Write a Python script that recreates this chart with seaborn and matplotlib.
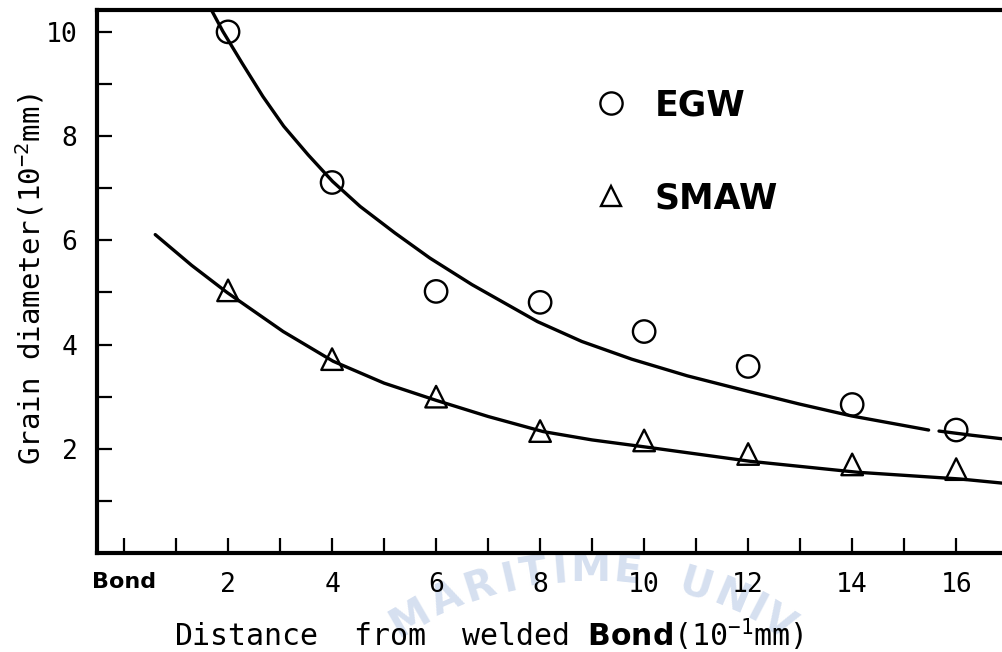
import numpy as np
import pandas as pd
import matplotlib
matplotlib.use("Agg")
import matplotlib.pyplot as plt
from matplotlib.lines import Line2D
from matplotlib.transforms import IdentityTransform
import seaborn as sns

# ---------------- data ----------------
distance = [2, 4, 6, 8, 10, 12, 14, 16]
egw_values = [10.0, 7.11, 5.02, 4.81, 4.25, 3.58, 2.85, 2.36]
smaw_values = [5.04, 3.72, 3.00, 2.34, 2.16, 1.90, 1.70, 1.61]

# hand-drawn fitted curves
egw_curve_x_a = [1.68, 1.90, 2.27, 2.67, 3.07, 3.54, 4.01, 4.54, 5.21, 5.88, 6.69, 7.95,
                 8.8, 9.76, 10.83, 11.97, 12.98, 13.99, 15.47]
egw_curve_y_a = [10.42, 10.01, 9.40, 8.76, 8.19, 7.64, 7.13, 6.65, 6.14, 5.66, 5.15, 4.44,
                 4.06, 3.72, 3.40, 3.11, 2.86, 2.63, 2.36]
egw_curve_x_b = [15.67, 16.3, 16.9]
egw_curve_y_b = [2.34, 2.26, 2.19]
smaw_curve_x = [0.6, 1.3, 1.98, 3.06, 4.02, 5.0, 6.0, 7.0, 8.06, 9.0, 10.06, 12.04, 14.1, 16.08, 16.9]
smaw_curve_y = [6.11, 5.52, 5.00, 4.25, 3.68, 3.26, 2.93, 2.62, 2.33, 2.17, 2.03, 1.76, 1.55, 1.42, 1.34]

x_ticks = [0, 2, 4, 6, 8, 10, 12, 14, 16]
x_tick_labels = ["Bond", "2", "4", "6", "8", "10", "12", "14", "16"]
y_ticks = [2, 4, 6, 8, 10]
y_tick_labels = ["2", "4", "6", "8", "10"]
series_names = ["EGW", "SMAW"]
watermark = "MARITIME UNIV"

# ---------------- style ----------------
sns.set_theme(style="ticks")
plt.rcParams["font.family"] = ["DejaVu Sans Mono", "DejaVu Sans"]
plt.rcParams["mathtext.fontset"] = "custom"
plt.rcParams["mathtext.rm"] = "DejaVu Sans Mono"
plt.rcParams["mathtext.bf"] = "DejaVu Sans:bold"
plt.rcParams["mathtext.default"] = "rm"

fig = plt.figure(figsize=(10.03, 6.52), dpi=100)
ax = fig.add_axes([0.0967, 0.1518, 0.9033, 0.8329])
ax.patch.set_alpha(0)

pts = pd.DataFrame({
    "x": distance * 2,
    "y": egw_values + smaw_values,
    "process": ["EGW"] * len(distance) + ["SMAW"] * len(distance),
})

# curves
for cx_, cy_ in [(egw_curve_x_a, egw_curve_y_a), (egw_curve_x_b, egw_curve_y_b),
                 (smaw_curve_x, smaw_curve_y)]:
    sns.lineplot(x=cx_, y=cy_, ax=ax, color="black", lw=2.4, sort=False, estimator=None)

# points
sns.scatterplot(data=pts[pts.process == "EGW"], x="x", y="y", ax=ax, marker="o",
                s=260, facecolor="none", edgecolor="black", linewidth=1.7, zorder=5)
sns.scatterplot(data=pts[pts.process == "SMAW"], x="x", y="y", ax=ax, marker="^",
                s=240, facecolor="none", edgecolor="black", linewidth=1.7, zorder=5)

ax.set_xlim(-0.52, 16.9)
ax.set_ylim(0, 10.42)

ax.set_xticks(x_ticks)
ax.set_xticklabels(x_tick_labels)
ax.set_xticks(np.arange(1, 17, 2), minor=True)
ax.set_yticks(y_ticks)
ax.set_yticklabels(y_tick_labels)
ax.set_yticks(np.arange(1, 10, 2), minor=True)
ax.tick_params(axis="both", which="both", direction="in", length=11, width=1.6,
               color="black", labelcolor="black", labelsize=19, pad=14,
               top=False, right=False)
lab0 = ax.get_xticklabels()[0]
lab0.set_fontfamily("DejaVu Sans")
lab0.set_fontweight("bold")
lab0.set_fontsize(16)

for side in ["left", "bottom", "top"]:
    ax.spines[side].set_linewidth(3)
    ax.spines[side].set_color("black")
ax.spines["right"].set_visible(False)

ax.set_xlabel(r"Distance  from  welded $\mathbf{Bond}$(10$^{-1}$mm)", fontsize=21.5,
              color="black", va="center")
ax.xaxis.set_label_coords(0.433, -0.151)
ax.set_ylabel(r"Grain diameter(10$^{-2}$mm)", fontsize=21, color="black", va="center")
ax.yaxis.set_label_coords(-0.074, 0.505)

handles = [
    Line2D([], [], ls="", marker="o", ms=16, mfc="none", mec="black", mew=1.7),
    Line2D([], [], ls="", marker="^", ms=15, mfc="none", mec="black", mew=1.7),
]
leg = ax.legend(handles, series_names, loc="upper left", bbox_to_anchor=(0.5287, 0.8877),
                frameon=False, borderpad=0, handlelength=1.0, handletextpad=0.77,
                labelspacing=1.70, labelcolor="black",
                prop={"family": "DejaVu Sans", "weight": "bold", "size": 25})

# faint scanning watermark along an arc
cx, cy, r = 590, 652 - 930, 360
angles = [-30, -23.5, -17.8, -13, -9, -4.8, 0, 6, None, 17, 23, 27.5, 31.5]
for ch, a in zip(watermark, angles):
    if a is None or ch == " ":
        continue
    th = np.deg2rad(a)
    px = cx + r * np.sin(th)
    py = cy + r * np.cos(th)
    fig.text(px, py, ch, transform=IdentityTransform(), rotation=-a,
             rotation_mode="anchor", ha="center", va="center", fontsize=29,
             fontweight="bold", fontfamily="DejaVu Sans", color="#d6e0f0", zorder=-1)

fig.savefig("out.png", dpi=100)
